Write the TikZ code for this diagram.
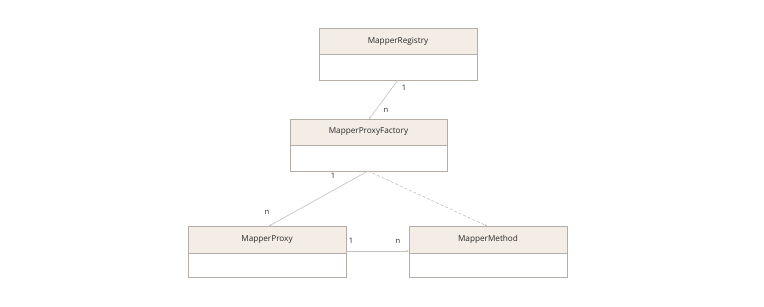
\documentclass[tikz,border=0pt]{standalone}
\usepackage{fontspec}
\setmainfont{Open Sans}
\usetikzlibrary{arrows.meta}
\definecolor{hdr}{HTML}{F3EDE6}
\definecolor{bord}{HTML}{B5AEA6}
\definecolor{lnk}{HTML}{C4C0BB}
\definecolor{txt}{HTML}{2A2A2A}
\begin{document}
\begin{tikzpicture}[x=1pt,y=-1pt,
  cls/.style={draw=bord,line width=0.6pt},
  hd/.style={draw=bord,fill=hdr,line width=0.6pt},
  lbl/.style={font=\fontsize{8.2}{10}\selectfont,text=txt},
  mult/.style={font=\fontsize{7.6}{9}\selectfont,text=txt},
  link/.style={draw=lnk,line width=0.6pt,-{Stealth[length=2.5pt,width=2pt]}},
  dlink/.style={draw=lnk,line width=0.6pt,dash pattern=on 3pt off 2pt,-{Stealth[length=2.5pt,width=2pt]}}]
\useasboundingbox (0,0) rectangle (764,306);
% MapperRegistry
\draw[hd] (319,28) rectangle (477,54);
\draw[cls] (319,54) rectangle (477,80);
\node[lbl] (mr) at (398,41) {MapperRegistry};
\coordinate (mrb) at (398,80);
% MapperProxyFactory
\draw[hd] (290,119) rectangle (447,145);
\draw[cls] (290,145) rectangle (447,171);
\node[lbl] (mpf) at (368.5,132) {MapperProxyFactory};
\coordinate (mpft) at (369,119);
\coordinate (mpfb) at (368,171);
% MapperProxy
\draw[hd] (188,226) rectangle (346,253);
\draw[cls] (188,253) rectangle (346,277);
\node[lbl] (mp) at (267,239.5) {MapperProxy};
\coordinate (mpt) at (269,226);
\coordinate (mpr) at (346,251);
% MapperMethod
\draw[hd] (409,226) rectangle (567,253);
\draw[cls] (409,253) rectangle (567,277);
\node[lbl] (mm) at (488,239.5) {MapperMethod};
\coordinate (mmt) at (487,226);
\coordinate (mml) at (409,251);
% links
\draw[link] (mrb) -- (mpft);
\draw[link] (mpfb) -- (mpt);
\draw[dlink] (mpfb) -- (mmt);
\draw[link] (mpr) -- (mml);
% multiplicities
\node[mult] (m1) at (404,88) {1};
\node[mult] (m2) at (386,110) {n};
\node[mult] (m3) at (333,176) {1};
\node[mult] (m4) at (267,212) {n};
\node[mult] (m5) at (351,241) {1};
\node[mult] (m6) at (398,241) {n};
\end{tikzpicture}
\end{document}
